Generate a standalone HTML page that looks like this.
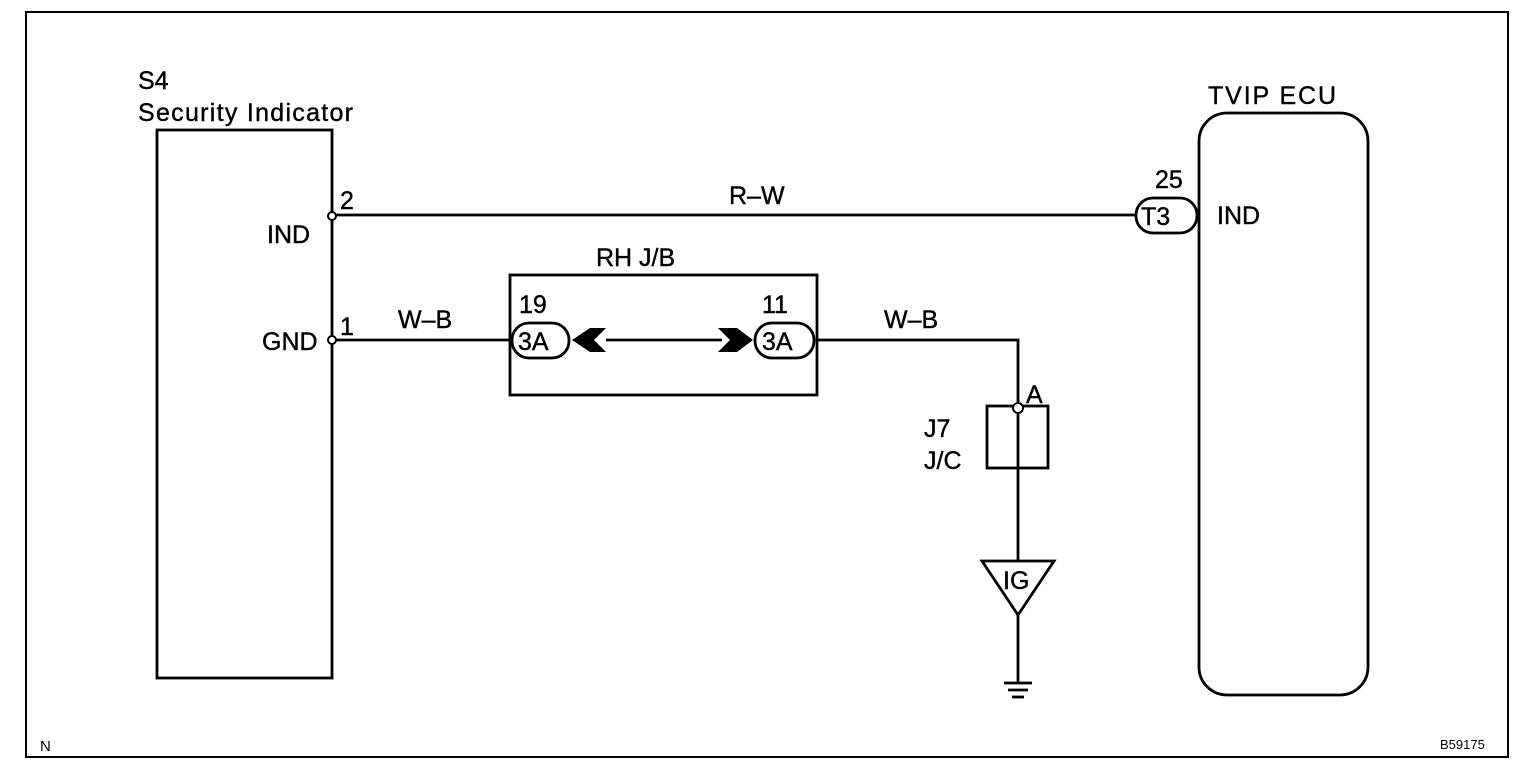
<!DOCTYPE html>
<html><head><style>
body{margin:0;background:#fff}
svg text{font-family:"Liberation Sans",Arial,sans-serif;fill:#000}
</style></head><body>
<svg width="1520" height="772" viewBox="0 0 1520 772">
<rect x="26" y="12" width="1482" height="745" fill="none" stroke="#000" stroke-width="2"/>
<g font-size="25" stroke="#000" stroke-width="0.4">
<text x="138" y="89">S4</text>
<text x="138" y="121" textLength="215">Security Indicator</text>
<text x="1208" y="104" textLength="128">TVIP ECU</text>
<text x="267" y="243">IND</text>
<text x="262" y="350">GND</text>
<text x="340" y="209">2</text>
<text x="340" y="335">1</text>
<text x="729" y="204">R–W</text>
<text x="398" y="328">W–B</text>
<text x="884" y="328">W–B</text>
<text x="596" y="266">RH J/B</text>
<text x="519" y="313">19</text>
<text x="762" y="313">11</text>
<text x="1155" y="188">25</text>
<text x="1217" y="224">IND</text>
<text x="1026" y="403">A</text>
<text x="924" y="437">J7</text>
<text x="924" y="469">J/C</text>
</g>
<g fill="none" stroke="#000" stroke-width="2.8">
<rect x="157" y="130" width="175" height="548"/>
<rect x="1199" y="113" width="169" height="582" rx="28"/>
<rect x="510" y="275" width="307" height="120"/>
<rect x="987" y="406" width="61" height="62"/>
<line x1="336" y1="215" x2="1135" y2="215"/>
<line x1="336" y1="340" x2="510" y2="340"/>
<line x1="606" y1="340" x2="722" y2="340"/>
<polyline points="817,340 1018,340 1018,404"/>
<line x1="1018" y1="412" x2="1018" y2="560"/>
<line x1="1018" y1="615" x2="1018" y2="682"/>
<line x1="1004" y1="683" x2="1032" y2="683"/>
<line x1="1008" y1="690" x2="1028" y2="690"/>
<line x1="1012" y1="697" x2="1024" y2="697"/>
<polygon points="982,561 1054,561 1018,615"/>
<rect x="512" y="323" width="57" height="35" rx="17"/>
<rect x="755" y="323" width="59" height="35" rx="17"/>
<rect x="1136" y="198" width="61" height="35" rx="17"/>
<line x1="1197" y1="215" x2="1199" y2="215"/>
</g>
<g fill="#fff" stroke="#000" stroke-width="2">
<circle cx="332" cy="216" r="4"/>
<circle cx="332" cy="340" r="4"/>
<circle cx="1018" cy="408" r="5"/>
</g>
<polygon points="572,340 590,328 606,328 594,340 606,352 590,352" fill="#000"/>
<polygon points="753,340 737,328 718,328 730,340 718,352 737,352" fill="#000"/>
<g font-size="25" stroke="#000" stroke-width="0.4">
<text x="518" y="350">3A</text>
<text x="762" y="350">3A</text>
<text x="1141" y="225">T3</text>
<text x="1003" y="589">IG</text>
</g>
<text x="40" y="751" font-size="15">N</text>
<text x="1440" y="749" font-size="13">B59175</text>
</svg>
</body></html>
